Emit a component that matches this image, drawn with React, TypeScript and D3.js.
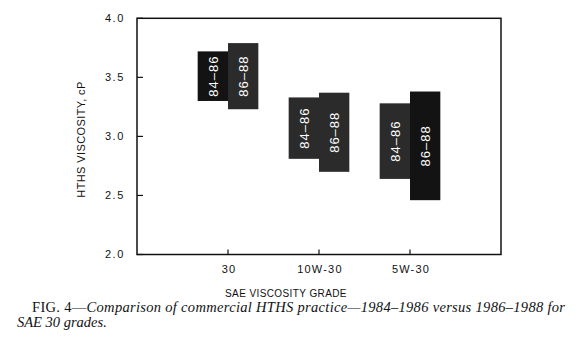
import React from "react";
import * as d3 from "d3";

// data (HTHS viscosity, cP)
const grades = ["30", "10W-30", "5W-30"];
const periods = ["84–86", "86–88"];
const low8486 = [3.30, 2.81, 2.64];
const high8486 = [3.72, 3.33, 3.28];
const low8688 = [3.23, 2.70, 2.46];
const high8688 = [3.79, 3.37, 3.38];
const yTicks = [2.0, 2.5, 3.0, 3.5, 4.0];

const W = 588;
const H = 352;
const left = 137, right = 501, top = 18.3, bottom = 254.5;

// which boxes print solid black vs. the grainy dark grey
const darkBox = [[true, false], [false, false], [false, true]];

export default function App() {
  const y = d3.scaleLinear().domain([2, 4]).range([bottom, top]);
  const x = d3.scalePoint().domain(grades).range([left, right]).padding(1);
  const bw = x.step() / 3;

  const boxes: any[] = [];
  grades.forEach((g, i) => {
    const cx = x(g) as number;
    const ranges = [[low8486[i], high8486[i]], [low8688[i], high8688[i]]];
    ranges.forEach(([lo, hi], j) => {
      boxes.push({
        x0: j === 0 ? cx - bw : cx,
        y0: y(hi),
        y1: y(lo),
        label: periods[j],
        dark: darkBox[i][j],
      });
    });
  });

  const sans = "'Liberation Sans', Arial, sans-serif";
  const serif = "'Liberation Serif', 'Times New Roman', serif";

  return (
    <svg width={W} height={H} style={{ position: "absolute", left: 0, top: 0, background: "#fff" }}>
      {/* boxes */}
      {boxes.map((b, k) => (
        <g key={k}>
          <rect x={b.x0} y={b.y0} width={bw} height={b.y1 - b.y0}
            fill={b.dark ? "#131313" : "#2b2b2b"} />
          <text
            transform={`translate(${b.x0 + bw / 2},${(b.y0 + b.y1) / 2}) rotate(-90)`}
            textAnchor="middle" dy="0.36em" fill="#fff"
            fontFamily={sans} fontSize={13} letterSpacing={1}>
            {b.label}
          </text>
        </g>
      ))}

      {/* frame */}
      <rect x={left} y={top} width={right - left} height={bottom - top}
        fill="none" stroke="#111" strokeWidth={1.5} />

      {/* y ticks */}
      {yTicks.map(t => (
        <g key={t}>
          <line x1={left} x2={left + 6} y1={y(t)} y2={y(t)} stroke="#111" strokeWidth={1.2} />
          <text x={125} y={y(t)} dy="0.36em" textAnchor="end" fontFamily={sans}
            fontSize={11} letterSpacing={1.6} fill="#111">
            {d3.format(".1f")(t)}
          </text>
        </g>
      ))}

      {/* x ticks */}
      {grades.map(g => (
        <g key={g}>
          <line x1={x(g)} x2={x(g)} y1={bottom} y2={bottom - 5} stroke="#111" strokeWidth={1.2} />
          <text x={(x(g) as number) + 1} y={273} textAnchor="middle" fontFamily={sans}
            fontSize={11} letterSpacing={1.2} fill="#111">
            {g}
          </text>
        </g>
      ))}

      {/* axis titles */}
      <text transform="translate(85,139.5) rotate(-90)" textAnchor="middle"
        fontFamily={sans} fontSize={11} letterSpacing={0.4} fill="#111">
        HTHS VISCOSITY, cP
      </text>
      <text x={286} y={297} textAnchor="middle" fontFamily={sans} fontSize={10}
        letterSpacing={0.4} fill="#111">
        SAE VISCOSITY GRADE
      </text>

      {/* caption */}
      <text x={32} y={312} fontFamily={serif}
        fontSize={14.5} fill="#111" textLength={533} lengthAdjust="spacing">
        <tspan>FIG. 4—</tspan>
        <tspan fontStyle="italic">Comparison of commercial HTHS practice—1984–1986 versus 1986–1988 for</tspan>
      </text>
      <text x={17} y={327} fontFamily={serif}
        fontSize={14.5} fill="#111" fontStyle="italic">
        SAE 30 grades.
      </text>
    </svg>
  );
}
